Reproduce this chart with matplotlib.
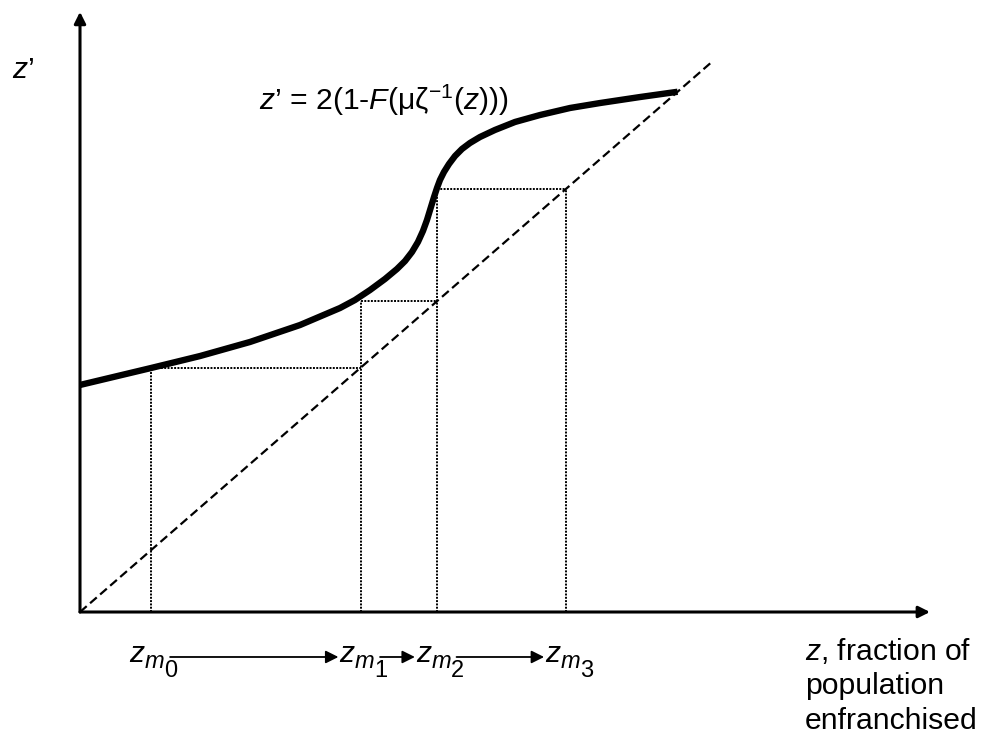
import matplotlib
matplotlib.use("Agg")
import matplotlib.pyplot as plt

plt.rcParams['font.family'] = ['Liberation Sans', 'DejaVu Sans']
plt.rcParams['mathtext.fontset'] = 'custom'
plt.rcParams['mathtext.rm'] = 'Liberation Sans'
plt.rcParams['mathtext.it'] = 'Liberation Sans:italic'

# cobweb points z_m0..z_m3 (fraction enfranchised)
zm = [0.083, 0.33, 0.42, 0.572]
zm_subs = ['0', '1', '2', '3']

# the map z' = 2(1-F(mu zeta^-1(z)))
curve_z = [0.0, 0.0835, 0.1412, 0.2, 0.2588, 0.3059, 0.3235, 0.3412, 0.3588,
           0.3729, 0.3824, 0.3906, 0.3976, 0.4035, 0.4082, 0.4129, 0.4165,
           0.42, 0.4235, 0.4282, 0.4341, 0.4412, 0.4494, 0.4588, 0.4706,
           0.4882, 0.5118, 0.5412, 0.5765, 0.6118, 0.6588, 0.703]
curve_zp = [0.3068, 0.3297, 0.3459, 0.3649, 0.3878, 0.4108, 0.4216, 0.4351,
            0.45, 0.4635, 0.4743, 0.4865, 0.5, 0.5149, 0.5297, 0.5473, 0.5608,
            0.573, 0.5838, 0.5946, 0.6054, 0.6162, 0.6257, 0.6338, 0.6419,
            0.6514, 0.6622, 0.6716, 0.6811, 0.6878, 0.6959, 0.703]

diag_end = 0.744
x_axis_end = 1.0
y_axis_end = 0.811

# pixel layout: origin at (80, 612), 850 px per unit in x, 740 px per unit in y
W, H = 985, 741
ox, oy, sx, sy = 80, 612, 850, 740
FS = 21.7
FS_SUB = 17

fig = plt.figure(figsize=(W / 100, H / 100), dpi=100)
ax = fig.add_axes([0, 0, 1, 1])
ax.axis('off')
ax.set_xlim(-ox / sx, (W - ox) / sx)
ax.set_ylim((oy - H) / sy, oy / sy)

# axes with arrow heads
arr = dict(arrowstyle='-|>', lw=2.2, color='black', mutation_scale=17,
           shrinkA=0, shrinkB=0)
ax.annotate('', xy=(x_axis_end, 0), xytext=(0, 0), arrowprops=arr)
ax.annotate('', xy=(0, y_axis_end), xytext=(0, 0), arrowprops=arr)

# 45 degree line
ax.plot([0, diag_end], [0, diag_end], color='black', lw=1.6,
        linestyle=(0, (4, 2)))

# the map
ax.plot(curve_z, curve_zp, color='black', lw=4.6, solid_joinstyle='round',
        solid_capstyle='butt')

# cobweb dotted lines
dot = dict(color='black', lw=1.4, linestyle=(0, (1, 0.7)))
for i in range(len(zm) - 1):
    ax.plot([zm[i], zm[i]], [0, zm[i + 1]], **dot)
    ax.plot([zm[i], zm[i + 1]], [zm[i + 1], zm[i + 1]], **dot)
ax.plot([zm[-1], zm[-1]], [0, zm[-1]], **dot)

# labels under the axis: z, subscript m, sub-subscript digit (Word style)
renderer = fig.canvas.get_renderer()
lab_y = -0.0676
for z, d in zip(zm, zm_subs):
    t1 = ax.text(0, lab_y, 'z', fontsize=FS, style='italic', va='baseline')
    t2 = ax.text(0, lab_y - 6 / sy, 'm', fontsize=FS_SUB, style='italic',
                 va='baseline')
    t3 = ax.text(0, lab_y - 15 / sy, d, fontsize=FS_SUB, va='baseline')
    w1 = t1.get_window_extent(renderer).width
    w2 = t2.get_window_extent(renderer).width
    w3 = t3.get_window_extent(renderer).width
    left = z + (3 - (w1 + w2 + w3) / 2) / sx
    t1.set_x(left)
    t2.set_x(left + w1 / sx)
    t3.set_x(left + (w1 + w2) / sx)

small = dict(arrowstyle='-|>', lw=1.3, color='black', mutation_scale=19,
             shrinkA=0, shrinkB=0)
arrow_y = -0.0608
gap_l, gap_r = 0.023, 0.026
for i in range(len(zm) - 1):
    ax.annotate('', xy=(zm[i + 1] - gap_r, arrow_y),
                xytext=(zm[i] + gap_l, arrow_y), arrowprops=small)

ax.text(-0.08, 0.722, r"$z$’", fontsize=FS, ha='left', va='baseline')
ax.text(0.211, 0.678, r"$z$’ = 2(1-$F$(μζ$^{\mathrm{-1}}$($z$)))",
        fontsize=FS, ha='left', va='baseline')
ax.text(0.853, -0.032, "$z$, fraction of\npopulation\nenfranchised",
        fontsize=FS, ha='left', va='top', linespacing=1.3)

fig.savefig("out.png", dpi=100)
